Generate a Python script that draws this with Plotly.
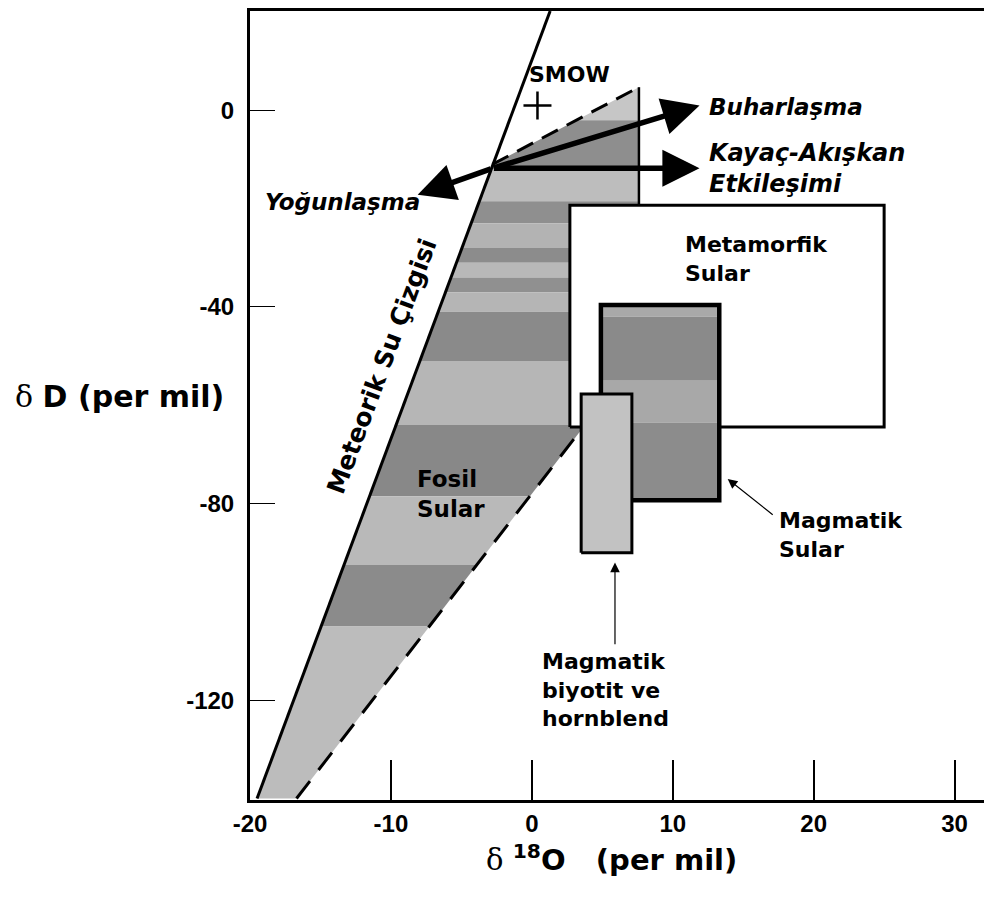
import plotly.graph_objects as go

# ---- data ----
X_TICKS = [-20, -10, 0, 10, 20, 30]
Y_TICKS = [0, -40, -80, -120]
X_RANGE = [-20, 32.3]
Y_RANGE = [-140.3, 20.2]

# meteoric water line
METEORIC_X = [-19.5, 1.3]
METEORIC_Y = [-140.0, 20.2]

# fossil water field (convex outline; right part hidden by metamorphic box)
FOSSIL_X = [-19.5, -2.8, 7.6, 7.6, -16.7]
FOSSIL_Y = [-140.0, -11.0, 4.7, -49.8, -140.0]
# dashed edges
DASH_UP_X = [-2.8, 7.6]
DASH_UP_Y = [-11.0, 4.7]
DASH_LOW_X = [-16.7, 3.0]
DASH_LOW_Y = [-140.0, -66.8]
RIGHT_EDGE_X = [7.6, 7.6]
RIGHT_EDGE_Y = [4.7, -20.0]

# shading bands of fossil field (upper, lower dD, grey)
FOSSIL_BAND_TOP = [20.9, -2, -12, -18.5, -23, -28, -31, -34, -37, -41, -51, -64, -78.5, -92.5, -105]
FOSSIL_BAND_BOT = [-2, -12, -18.5, -23, -28, -31, -34, -37, -41, -51, -64, -78.5, -92.5, -105, -141]
FOSSIL_BAND_GREY = ["#c6c6c6", "#8e8e8e", "#bdbdbd", "#8f8f8f", "#b3b3b3", "#8c8c8c", "#b8b8b8",
                    "#909090", "#b5b5b5", "#8a8a8a", "#b6b6b6", "#888888", "#b9b9b9", "#8b8b8b", "#bcbcbc"]

# boxes
META_X = [2.7, 25.0]
META_Y = [-64.4, -19.3]
MAG_X = [4.9, 13.3]
MAG_Y = [-79.3, -39.6]
MAG_BAND_TOP = [-39.6, -42, -55, -63.5]
MAG_BAND_BOT = [-42, -55, -63.5, -79.3]
MAG_BAND_GREY = ["#a9a9a9", "#8a8a8a", "#a8a8a8", "#8c8c8c"]
BIO_X = [3.5, 7.1]
BIO_Y = [-90.0, -57.7]

SMOW = (0.4, 1.0)

# process arrows: origin and tips
ARROW_ORIGIN = (-2.8, -11.8)
ARROW_TIPS = {"Buharlaşma": (11.9, 1.0), "Kayaç": (11.9, -11.8), "Yoğunlaşma": (-8.1, -17.2)}

FONT = "DejaVu Sans, sans-serif"
TICKFONT = "Liberation Sans, Arial, sans-serif"


def clip_poly(xs, ys, y0, y1):
    pts = list(zip(xs, ys))

    def clip(points, keep, inter):
        out = []
        n = len(points)
        for i in range(n):
            a = points[i]
            b = points[(i + 1) % n]
            ka, kb = keep(a), keep(b)
            if ka and kb:
                out.append(b)
            elif ka and not kb:
                out.append(inter(a, b))
            elif not ka and kb:
                out.append(inter(a, b))
                out.append(b)
        return out

    def inter_y(yc):
        def f(a, b):
            t = (yc - a[1]) / (b[1] - a[1])
            return (a[0] + t * (b[0] - a[0]), yc)
        return f

    pts = clip(pts, lambda p: p[1] >= y0, inter_y(y0))
    if pts:
        pts = clip(pts, lambda p: p[1] <= y1, inter_y(y1))
    return pts


fig = go.Figure()

# fossil water bands
for top, bot, g in zip(FOSSIL_BAND_TOP, FOSSIL_BAND_BOT, FOSSIL_BAND_GREY):
    pts = clip_poly(FOSSIL_X, FOSSIL_Y, bot, top)
    if len(pts) < 3:
        continue
    fig.add_trace(go.Scatter(x=[p[0] for p in pts] + [pts[0][0]], y=[p[1] for p in pts] + [pts[0][1]],
                             mode="lines", fill="toself", fillcolor=g, line=dict(width=0, color=g),
                             hoverinfo="skip", showlegend=False))

# dashed edges & right edge
fig.add_trace(go.Scatter(x=DASH_UP_X, y=DASH_UP_Y, mode="lines",
                         line=dict(color="black", width=3, dash="18px,10px"), showlegend=False))
fig.add_trace(go.Scatter(x=DASH_LOW_X, y=DASH_LOW_Y, mode="lines",
                         line=dict(color="black", width=3, dash="22px,14px"), showlegend=False))
fig.add_trace(go.Scatter(x=RIGHT_EDGE_X, y=RIGHT_EDGE_Y, mode="lines",
                         line=dict(color="black", width=2.5), showlegend=False))

# meteoric water line
fig.add_trace(go.Scatter(x=METEORIC_X, y=METEORIC_Y, mode="lines",
                         line=dict(color="black", width=3), showlegend=False))


def rect(x, y, fill, lw=3):
    fig.add_trace(go.Scatter(x=[x[0], x[1], x[1], x[0], x[0]], y=[y[0], y[0], y[1], y[1], y[0]],
                             mode="lines", fill="toself", fillcolor=fill,
                             line=dict(color="black", width=lw), hoverinfo="skip", showlegend=False))


def band(x, top, bot, g):
    fig.add_trace(go.Scatter(x=[x[0], x[1], x[1], x[0], x[0]], y=[bot, bot, top, top, bot],
                             mode="lines", fill="toself", fillcolor=g, line=dict(width=0, color=g),
                             hoverinfo="skip", showlegend=False))


# metamorphic waters box
rect(META_X, META_Y, "white", 3)
# magmatic waters box with bands
for top, bot, g in zip(MAG_BAND_TOP, MAG_BAND_BOT, MAG_BAND_GREY):
    band(MAG_X, top, bot, g)
rect(MAG_X, MAG_Y, "rgba(0,0,0,0)", 4.5)
# magmatic biotite & hornblende box
rect(BIO_X, BIO_Y, "#c2c2c2", 3)

# SMOW marker
fig.add_trace(go.Scatter(x=[SMOW[0]], y=[SMOW[1]], mode="markers",
                         marker=dict(symbol="cross-thin", size=20, line=dict(width=2.5, color="black")),
                         showlegend=False))

ann = []
# process arrows
for key, (tx, ty) in ARROW_TIPS.items():
    ann.append(dict(x=tx, y=ty, ax=ARROW_ORIGIN[0], ay=ARROW_ORIGIN[1], xref="x", yref="y",
                    axref="x", ayref="y", showarrow=True, arrowhead=2, arrowsize=1.35,
                    arrowwidth=5.5, arrowcolor="black", text=""))


def f(size):
    return dict(family=FONT, size=size, color="black")


ann += [
    dict(x=12.4, y=0.6, text="<b><i>Buharlaşma</i></b>", showarrow=False, xanchor="left", yanchor="middle",
         font=f(23)),
    dict(x=12.4, y=-11.8, text="<b><i>Kayaç-Akışkan<br>Etkileşimi</i></b>", showarrow=False,
         xanchor="left", yanchor="middle", align="left", font=f(24)),
    dict(x=-19.1, y=-18.7, text="<b><i>Yoğunlaşma</i></b>", showarrow=False, xanchor="left", yanchor="middle",
         font=f(23)),
    dict(x=-0.35, y=7.3, text="<b>SMOW</b>", showarrow=False, xanchor="left", yanchor="middle",
         font=f(22)),
    dict(x=10.7, y=-30.2, text="<b>Metamorfik<br>Sular</b>", showarrow=False, xanchor="left",
         yanchor="middle", align="left", font=f(22)),
    dict(x=-8.3, y=-78.0, text="<b>Fosil<br>Sular</b>", showarrow=False, xanchor="left",
         yanchor="middle", align="left", font=f(23)),
    dict(x=-10.6, y=-52.0, text="<b>Meteorik Su Çizgisi</b>", showarrow=False, textangle=-69.6,
         xanchor="center", yanchor="middle", font=f(25)),
    dict(x=17.4, y=-86.4, text="<b>Magmatik<br>Sular</b>", showarrow=False, xanchor="left",
         yanchor="middle", align="left", font=f(22)),
    dict(x=0.6, y=-118.0, text="<b>Magmatik<br>biyotit ve<br>hornblend</b>", showarrow=False,
         xanchor="left", yanchor="middle", align="left", font=f(22)),
    # pointer arrows
    dict(x=13.9, y=-75.0, ax=17.2, ay=-82.5, xref="x", yref="y", axref="x", ayref="y", text="",
         showarrow=True, arrowhead=2, arrowsize=1.6, arrowwidth=1.2, arrowcolor="black"),
    dict(x=5.9, y=-92.0, ax=5.9, ay=-108.9, xref="x", yref="y", axref="x", ayref="y", text="",
         showarrow=True, arrowhead=2, arrowsize=1.6, arrowwidth=1.2, arrowcolor="black"),
    # axis titles
    dict(x=-0.321, y=-58.2, xref="paper", yref="y", xanchor="left", yanchor="middle", showarrow=False,
         text="<span style='font-family:DejaVu Serif'>δ</span> <b>D (per mil)</b>",
         font=f(30)),
    dict(x=0.317, y=-0.073, xref="paper", yref="paper", xanchor="left", yanchor="middle", showarrow=False,
         text="<span style='font-family:DejaVu Serif'>δ</span> <b><sup>18</sup>O&nbsp;&nbsp;&nbsp;(per mil)</b>",
         font=f(29)),
]

fig.update_layout(
    width=992, height=906,
    margin=dict(l=242, r=13, t=0, b=114),
    paper_bgcolor="white", plot_bgcolor="white",
    showlegend=False,
    annotations=ann,
    xaxis=dict(range=X_RANGE, tickvals=X_TICKS, ticktext=["<b>%d</b>" % v for v in X_TICKS],
               ticks="inside", ticklen=40, tickwidth=1.5, tickcolor="black",
               showline=True, linewidth=3, linecolor="black", mirror=True,
               showgrid=False, zeroline=False,
               tickfont=dict(family=TICKFONT, size=24, color="black"), ticklabelstandoff=0),
    yaxis=dict(range=Y_RANGE, tickvals=Y_TICKS, ticktext=["<b>%d</b>" % v for v in Y_TICKS],
               ticks="inside", ticklen=25, tickwidth=1.2, tickcolor="black",
               showline=True, linewidth=3, linecolor="black", mirror=True,
               showgrid=False, zeroline=False,
               tickfont=dict(family=TICKFONT, size=24, color="black"), ticklabelstandoff=8),
)

fig.write_html("out.html")
